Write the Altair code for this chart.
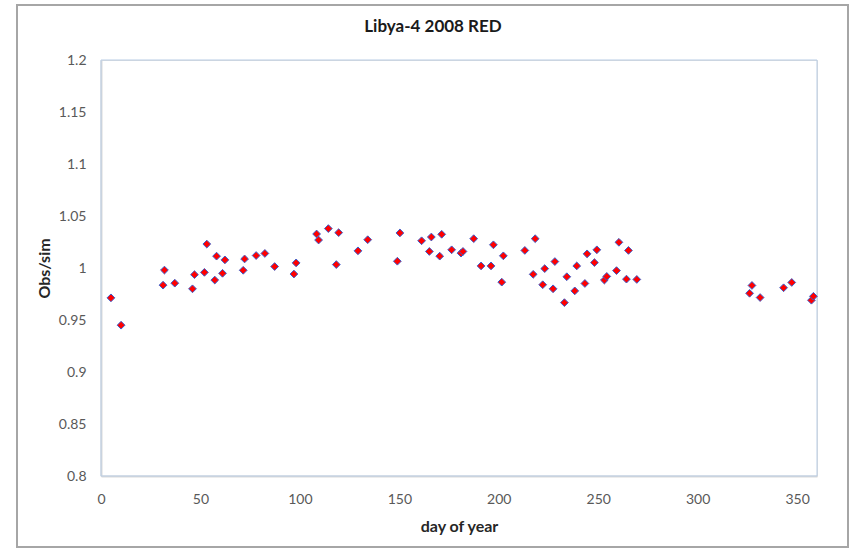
import altair as alt
import pandas as pd

# day of year
days = [5.0, 10.1, 31.2, 31.9, 37.1, 46.0, 47.0, 52.0, 53.2, 57.2, 58.1, 61.1, 62.3,
        71.5, 72.2, 78.0, 82.4, 87.3,
        97.0, 98.1, 108.4, 109.4, 114.3, 118.3, 119.5, 129.2, 134.1, 149.0, 150.3,
        161.2, 165.1, 166.1, 170.3, 171.3, 176.3, 181.0, 182.0,
        187.4, 191.1, 196.1, 197.3, 201.5, 202.3, 213.1, 217.3, 218.3, 222.1, 223.1,
        227.3, 228.2, 233.0, 234.2, 238.2, 239.2, 243.3, 244.4, 248.1, 249.3, 253.1,
        254.3, 259.2, 260.4, 264.2, 265.2, 269.4,
        326.1, 327.3, 331.4, 343.2, 347.3, 357.2, 358.2]
# obs/sim ratio
ratios = [0.9713, 0.945, 0.9835, 0.998, 0.9854, 0.980, 0.9936, 0.9958, 1.023, 0.9884,
          1.0114, 0.9949, 1.0078, 0.9978, 1.0087, 1.012, 1.014, 1.0014,
          0.9942, 1.0049, 1.0327, 1.0269, 1.0379, 1.0033, 1.034, 1.0165, 1.0272,
          1.0065, 1.0337, 1.0262, 1.0159, 1.0298, 1.0114, 1.0324, 1.0175, 1.0143,
          1.0159,
          1.0282, 1.002, 1.002, 1.0223, 0.9864, 1.0117, 1.0169, 0.9939, 1.0282,
          0.9839, 0.9994, 0.980, 1.0062, 0.9667, 0.9916, 0.978, 1.002, 0.9851,
          1.0136, 1.0052, 1.0175, 0.9884, 0.9919, 0.9975, 1.0247, 0.9893, 1.0169,
          0.989,
          0.9757, 0.9832, 0.9716, 0.981, 0.9861, 0.969, 0.9728]

x_ticks = [0, 50, 100, 150, 200, 250, 300, 350]
y_ticks = [0.8, 0.85, 0.9, 0.95, 1.0, 1.05, 1.1, 1.15, 1.2]
title_text = "Libya-4 2008 RED"

df = pd.DataFrame({"day": days, "ratio": ratios})

FONT = "Lato"

# outer chart border (decoration)
border = alt.Chart(pd.DataFrame({"a": [0]})).mark_rect(
    fill=None, stroke="#a6a6a6", strokeWidth=2
).encode(
    x=alt.value(-84), x2=alt.value(747), y=alt.value(-55), y2=alt.value(487)
)

# light blue frame of plot area
frame = alt.Chart(pd.DataFrame({"a": [0]})).mark_rect(
    fill=None, stroke="#b9cde5", strokeWidth=1
).encode(
    x=alt.value(0), x2=alt.value(716), y=alt.value(0), y2=alt.value(416)
)

# chart title as text
title = alt.Chart(pd.DataFrame({"t": [title_text]})).mark_text(
    font=FONT, fontSize=17, fontWeight="bold", color="#1a1a1a",
    align="center", baseline="middle"
).encode(
    text="t:N", x=alt.value(332), y=alt.value(-33)
)

points = alt.Chart(df).mark_point(
    shape="diamond", filled=True, fill="#ff0000", stroke="#3a5fcd",
    strokeWidth=1, size=60, opacity=1
).encode(
    x=alt.X("day:Q", scale=alt.Scale(domain=[0, 360], nice=False),
            axis=alt.Axis(title="day of year", values=x_ticks, grid=False,
                          ticks=False, domainColor="#d9d9d9", domainWidth=2,
                          labelFont=FONT, labelFontSize=14, labelColor="#595959",
                          labelPadding=16, titleFont=FONT, titleFontSize=16,
                          titleFontWeight="bold", titleColor="#262626",
                          titlePadding=12, labelFlush=False)),
    y=alt.Y("ratio:Q", scale=alt.Scale(domain=[0.8, 1.2], nice=False, zero=False),
            axis=alt.Axis(title="Obs/sim", values=y_ticks, grid=False,
                          ticks=False, domainColor="#d9d9d9", domainWidth=2,
                          labelFont=FONT, labelFontSize=14, labelColor="#595959",
                          labelPadding=15, titleFont=FONT, titleFontSize=16,
                          titleFontWeight="bold", titleColor="#262626",
                          titlePadding=6, labelFlush=False,
                          labelExpr="format(datum.value, '.2~f')")),
)

chart = alt.layer(border, frame, title, points).properties(
    width=716, height=416,
    autosize=alt.AutoSizeParams(type="none"),
    padding={"left": 101, "top": 60, "right": 36, "bottom": 72},
).configure_view(stroke=None).configure(background="white")

chart.save("out.html", embed_options={"renderer": "svg", "actions": False})
